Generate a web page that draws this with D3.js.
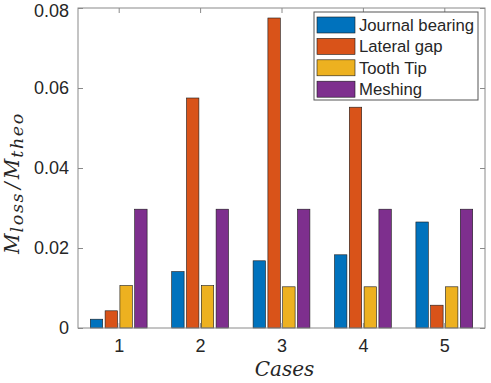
<!DOCTYPE html>
<html><head><meta charset="utf-8">
<script src="https://cdn.jsdelivr.net/npm/d3@7"></script>
<style>body{margin:0;background:#fff}svg{display:block}</style>
</head><body>
<script>
const cases = [1, 2, 3, 4, 5];
const seriesNames = ["Journal bearing", "Lateral gap", "Tooth Tip", "Meshing"];
const journalBearing = [0.0022, 0.0141, 0.0168, 0.0183, 0.0265];
const lateralGap = [0.0043, 0.0575, 0.0775, 0.0552, 0.0057];
const toothTip = [0.0106, 0.0106, 0.0103, 0.0103, 0.0103];
const meshing = [0.0297, 0.0297, 0.0297, 0.0297, 0.0297];
const yTicks = [0, 0.02, 0.04, 0.06, 0.08];
const yTickLabels = ["0", "0.02", "0.04", "0.06", "0.08"];
const colors = ["#0072BD", "#D95319", "#EDB120", "#7E2F8E"];

const seriesValues = [journalBearing, lateralGap, toothTip, meshing];

const W = 491, H = 383;
const L = 78, R = 485, T = 8, B = 328;
const svg = d3.select("body").append("svg").attr("width", W).attr("height", H);

const x = d3.scaleLinear().domain([0.5, 5.5]).range([L, R]);
const y = d3.scaleLinear().domain([0, 0.08]).range([B, T]);
const inner = d3.scaleBand().domain(seriesNames).range([-28.4, 28.4]).paddingInner(0.162);

// bars
seriesNames.forEach((name, j) => {
  svg.append("g").selectAll("rect").data(seriesValues[j]).join("rect")
    .attr("x", (d, i) => x(cases[i]) + inner(name))
    .attr("y", d => y(d))
    .attr("width", inner.bandwidth())
    .attr("height", d => y(0) - y(d))
    .attr("fill", colors[j])
    .attr("stroke", "#1a1a1a")
    .attr("stroke-width", 0.6);
});

const axisColor = "#8a8a8a";
const textColor = "#262626";
const font = "'Liberation Sans', Arial, sans-serif";

// frame
svg.append("rect").attr("x", L).attr("y", T).attr("width", R - L).attr("height", B - T)
  .attr("fill", "none").attr("stroke", axisColor).attr("stroke-width", 1);

// axes (ticks inward)
const tk = 5;
const yAxisL = svg.append("g").attr("transform", `translate(${L},0)`)
  .call(d3.axisLeft(y).tickValues(yTicks).tickSize(-tk).tickPadding(9).tickFormat((d, i) => yTickLabels[i]));
const yAxisR = svg.append("g").attr("transform", `translate(${R},0)`)
  .call(d3.axisRight(y).tickValues(yTicks).tickSize(-tk).tickFormat(""));
const xAxisB = svg.append("g").attr("transform", `translate(0,${B})`)
  .call(d3.axisBottom(x).tickValues(cases).tickSize(-tk).tickPadding(11).tickFormat(d3.format("d")));
const xAxisT = svg.append("g").attr("transform", `translate(0,${T})`)
  .call(d3.axisTop(x).tickValues(cases).tickSize(-tk).tickFormat(""));
[yAxisL, yAxisR, xAxisB, xAxisT].forEach(g => {
  g.select(".domain").remove();
  g.selectAll(".tick line").attr("stroke", axisColor);
  g.selectAll(".tick text").attr("fill", textColor).style("font-family", font).style("font-size", "18px");
});
// top label kept inside the picture, as in the reference
yAxisL.selectAll(".tick text").filter(d => d === 0.08).attr("dy", "0.45em");

// x label
svg.append("text").attr("x", (L + R) / 2 + 3).attr("y", 376).attr("text-anchor", "middle")
  .style("font-family", "'DejaVu Serif', serif").style("font-style", "italic").style("font-size", "20px")
  .attr("fill", textColor).text("Cases");

// y label
const yl = svg.append("text").attr("transform", `translate(19,183) rotate(-90)`)
  .attr("text-anchor", "middle")
  .style("font-family", "'DejaVu Serif', serif").style("font-style", "italic").style("font-size", "20px")
  .attr("fill", textColor);
yl.append("tspan").text("M");
yl.append("tspan").attr("dy", 4).attr("dx", 1).style("font-size", "17.5px").style("letter-spacing", "1.6px").text("loss");
yl.append("tspan").attr("dy", -4).attr("dx", 3).text("/");
yl.append("tspan").attr("dx", 3).text("M");
yl.append("tspan").attr("dy", 4).attr("dx", 1).style("font-size", "17.5px").style("letter-spacing", "1.6px").text("theo");

// legend
const lg = svg.append("g");
lg.append("rect").attr("x", 314).attr("y", 12).attr("width", 164).attr("height", 88)
  .attr("fill", "#fff").attr("stroke", "#555").attr("stroke-width", 1);
seriesNames.forEach((name, j) => {
  const cy = 25 + j * 21.4;
  lg.append("rect").attr("x", 317).attr("y", cy - 8).attr("width", 38).attr("height", 16)
    .attr("fill", colors[j]).attr("stroke", "#1a1a1a").attr("stroke-width", 0.6);
  lg.append("text").attr("x", 359).attr("y", cy + 6).attr("fill", textColor)
    .style("font-family", font).style("font-size", "16.7px").text(name);
});
</script>
</body></html>
